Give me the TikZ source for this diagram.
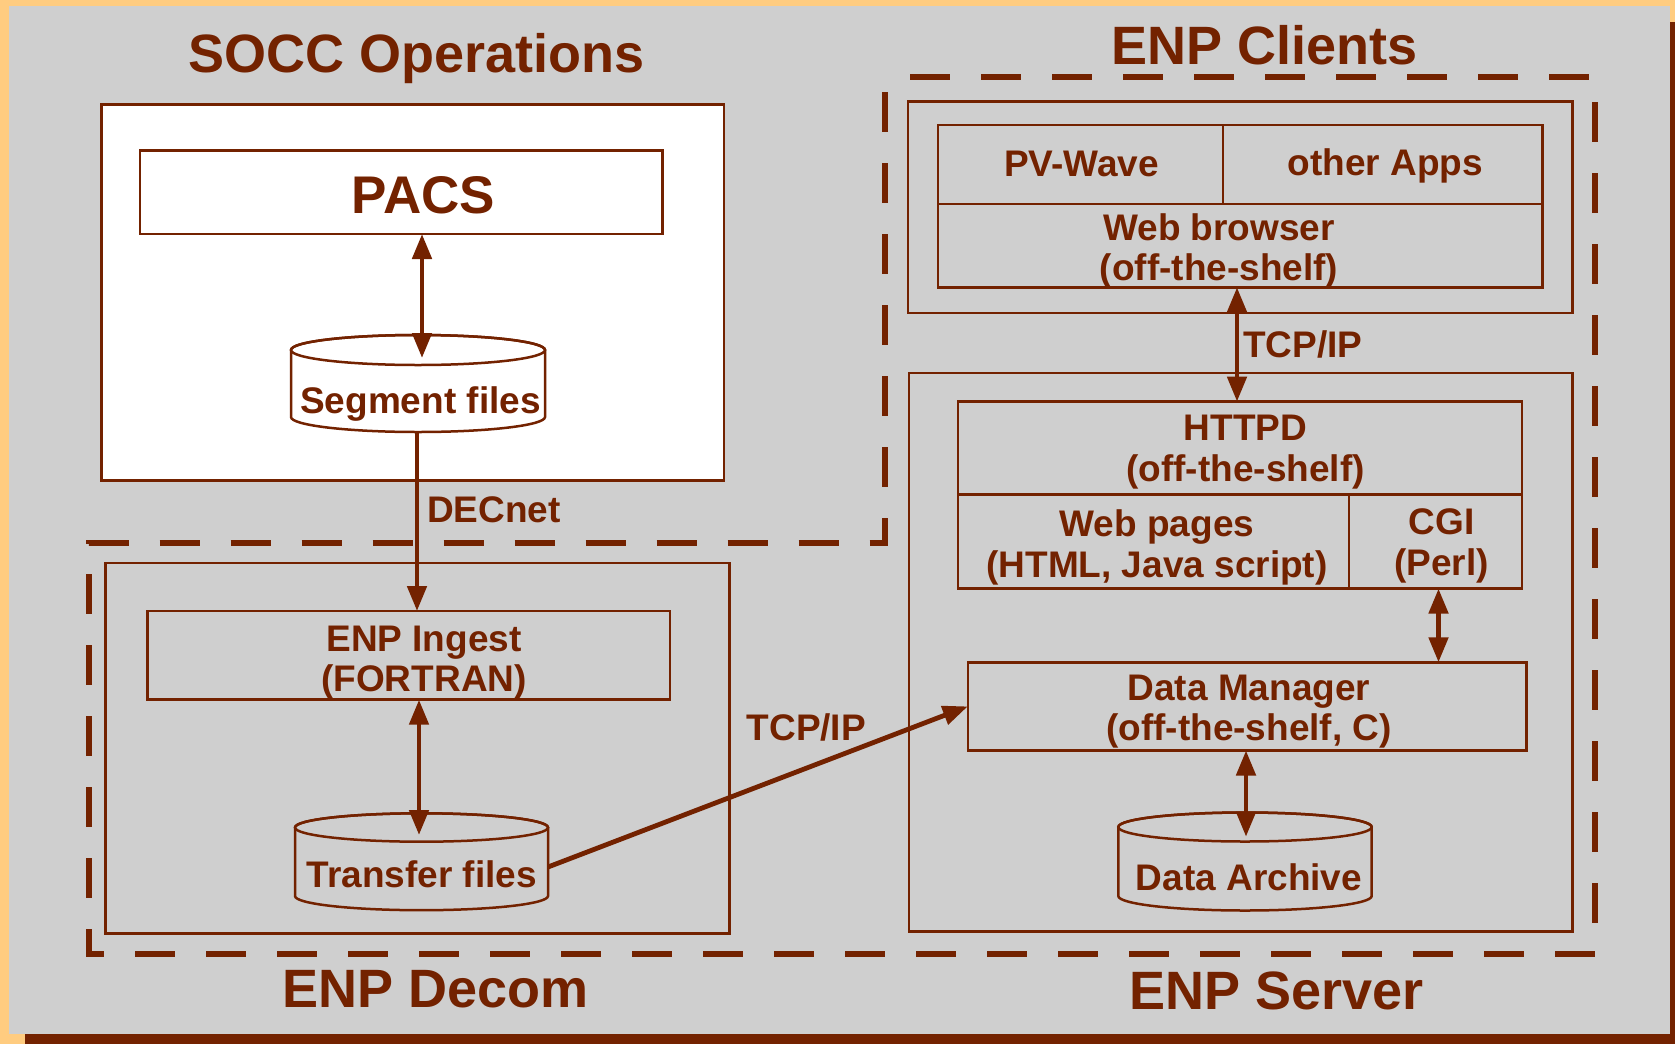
\documentclass[tikz,border=0pt]{standalone}
\usepackage{fontspec}
\setmainfont{Liberation Sans}
\usetikzlibrary{arrows.meta}
\definecolor{brn}{RGB}{115,34,0}
\definecolor{bgg}{RGB}{207,207,207}
\definecolor{org}{RGB}{255,204,128}
\begin{document}
\begin{tikzpicture}[x=1pt,y=-1pt,
  box/.style={draw=brn,line width=2.5pt,inner sep=0pt,outer sep=0pt},
  lbl/.style={text=brn,inner sep=0pt,outer sep=0pt,align=center,font=\fontsize{37}{40.5}\selectfont\bfseries},
  lblb/.style={lbl,anchor=base},
  ttl/.style={text=brn,inner sep=0pt,outer sep=0pt,anchor=base,font=\fontsize{54}{60}\selectfont\bfseries},
  conn/.style={draw=brn,line width=4.8pt},
  arr1/.style={-{Triangle[length=25pt,width=19pt]}},
  arr2/.style={{Triangle[length=25pt,width=19pt]}-{Triangle[length=25pt,width=19pt]}},
  cylline/.style={draw=brn,line width=2.5pt},
  dashline/.style={draw=brn,line width=6pt,dash pattern=on 40pt off 31pt,dash phase=45.5pt}
]
\useasboundingbox (0,0) rectangle (1675,1044);
% background
\fill[org] (0,0) rectangle (1675,1044);
\fill[brn] (25,22) rectangle (1675,1044);
\fill[bgg] (9,6) rectangle (1670,1034);

% SOCC operations
\node[box,fill=white,minimum width=622.7pt,minimum height=376pt] (socc) at (412.85,292.7) {};
\node[box,minimum width=522.3pt,minimum height=83.4pt] (pacs) at (401.15,192.3) {};
\node[inner sep=0pt,outer sep=0pt,minimum width=254pt,minimum height=67pt] (seg) at (418,383.5) {};
\path[cylline,fill=white] (seg.north west) -- (seg.south west)
  arc[start angle=180,end angle=360,x radius=127pt,y radius=15pt]
  -- (seg.north east) arc[start angle=0,end angle=180,x radius=127pt,y radius=15pt] -- cycle;
\draw[cylline] (seg.north) ellipse[x radius=127pt,y radius=15pt];

% dashed outline
\draw[dashline] (884.5,77) -- (1595,77) -- (1595,953.7) -- (88.7,953.7) -- (88.7,542.6) -- (884.5,542.6) -- cycle;

% ENP Clients
\node[box,minimum width=664.4pt,minimum height=211.5pt] (clients) at (1240.2,207.25) {};
\node[box,minimum width=285pt,minimum height=79pt] (pvw) at (1080.5,164.5) {};
\node[box,minimum width=319.5pt,minimum height=79pt] (apps) at (1382.75,164.5) {};
\node[box,minimum width=604.5pt,minimum height=83.3pt] (wb) at (1240.25,245.65) {};

% ENP Server
\node[box,minimum width=663.4pt,minimum height=558.7pt] (server) at (1240.7,652.15) {};
\node[box,minimum width=564pt,minimum height=93pt] (httpd) at (1240.2,448.1) {};
\node[box,minimum width=390.8pt,minimum height=94pt] (webp) at (1153.6,541.6) {};
\node[box,minimum width=173.2pt,minimum height=94pt] (cgi) at (1435.6,541.6) {};
\node[box,minimum width=558.7pt,minimum height=88.2pt] (dm) at (1247.15,706.4) {};
\node[inner sep=0pt,outer sep=0pt,minimum width=253.4pt,minimum height=69pt] (arch) at (1245,861.5) {};
\path[cylline,fill=bgg] (arch.north west) -- (arch.south west)
  arc[start angle=180,end angle=360,x radius=126.7pt,y radius=14.5pt]
  -- (arch.north east) arc[start angle=0,end angle=180,x radius=126.7pt,y radius=14.5pt] -- cycle;
\draw[cylline] (arch.north) ellipse[x radius=126.7pt,y radius=14.5pt];

% ENP Decom
\node[box,minimum width=623.9pt,minimum height=370.6pt] (decom) at (417.65,748.3) {};
\node[box,minimum width=522.4pt,minimum height=88.7pt] (ingest) at (408.6,655.35) {};
\node[inner sep=0pt,outer sep=0pt,minimum width=253pt,minimum height=68.5pt] (trf) at (421.5,861.75) {};
\path[cylline,fill=bgg] (trf.north west) -- (trf.south west)
  arc[start angle=180,end angle=360,x radius=126.5pt,y radius=14.2pt]
  -- (trf.north east) arc[start angle=0,end angle=180,x radius=126.5pt,y radius=14.2pt] -- cycle;
\draw[cylline] (trf.north) ellipse[x radius=126.5pt,y radius=14.2pt];

% connectors
\coordinate (segtop) at (422,358);
\draw[conn,arr2] (pacs.south -| segtop) -- (segtop);
\coordinate (segbot) at (417,432);
\draw[conn,arr1] (segbot) -- (segbot |- ingest.north);
\coordinate (trtop) at (419,835);
\draw[conn,arr2] (ingest.south -| trtop) -- (trtop);
\coordinate (trout) at (548,867);
\draw[conn,arr1] (trout) -- (dm.west);
\coordinate (tcpx) at (1237,0);
\draw[conn,arr2] (wb.south -| tcpx) -- (httpd.north -| tcpx);
\coordinate (cgix) at (1438.5,0);
\draw[conn,arr2] (cgi.south -| cgix) -- (dm.north -| cgix);
\coordinate (arctop) at (1246,836.7);
\draw[conn,arr2] (dm.south -| arctop) -- (arctop);

% titles
\node[ttl] (tSOCC) at (417,72) {SOCC Operations};
\node[ttl] (tClients) at (1265,64) {ENP Clients};
\node[ttl] (tDecom) at (435.8,1007) {ENP Decom};
\node[ttl] (tServer) at (1276.6,1009) {ENP Server};

% labels
\node[text=brn,inner sep=0pt,anchor=base,font=\fontsize{53}{58}\selectfont\bfseries] (lPACS) at (423.5,213) {PACS};
\node[lblb] (lSeg) at (420.5,413) {Segment files};
\node[lblb] (lTrf) at (421.7,887) {Transfer files};
\node[lblb] (lArch) at (1249,890) {Data Archive};
\node[lblb,anchor=base west] (lDEC) at (427,522) {DECnet};
\node[lblb,anchor=base west] (lTCP1) at (746.7,740) {TCP/IP};
\node[lblb,anchor=base west] (lTCP2) at (1243.3,357.7) {TCP/IP};
\node[lblb] (lPVW) at (1081.6,176) {PV-Wave};
\node[lblb] (lApps) at (1385.5,175) {other Apps};
\node[lbl] (lWB) at (1219,251) {Web browser\\(off-the-shelf)};
\node[lbl] (lHTTPD) at (1245.5,452) {HTTPD\\(off-the-shelf)};
\node[lbl] (lWebp) at (1157,547.4) {Web pages\\(HTML, Java script)};
\node[lbl] (lCGI) at (1441.5,545.7) {CGI\\(Perl)};
\node[lbl] (lDM) at (1249,711.5) {Data Manager\\(off-the-shelf, C)};
\node[lbl] (lIngest) at (424,662.5) {ENP Ingest\\(FORTRAN)};
\end{tikzpicture}
\end{document}
